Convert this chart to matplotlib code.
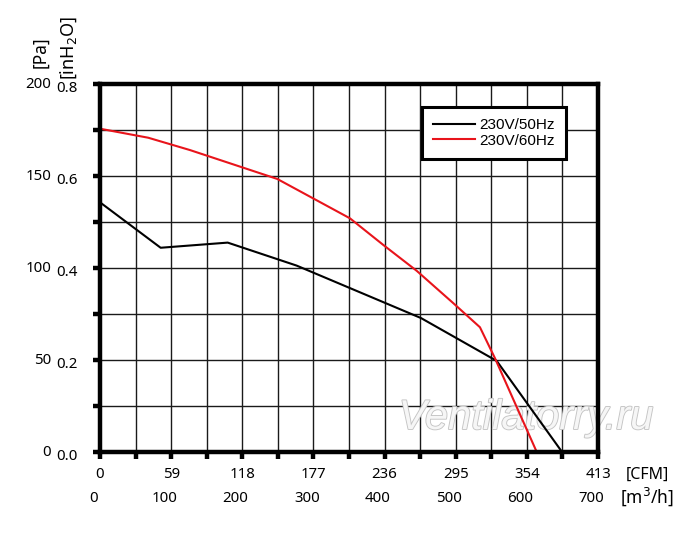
import matplotlib
matplotlib.use('Agg')
import matplotlib.pyplot as plt
import matplotlib.transforms as mtransforms
import matplotlib.patheffects as pe
from matplotlib.ticker import MultipleLocator

# curves (x in CFM, y in Pa)
cfm_50hz = [0, 50.3, 105.9, 163.1, 266.2, 329.0, 383.2]
pa_50hz = [135.7, 111.0, 113.8, 101.3, 72.8, 49.5, 0]
cfm_60hz = [0, 40, 74.6, 147.0, 207.3, 235.0, 262.6, 292.8, 315.1, 327.6, 362.2]
pa_60hz = [175.7, 170.8, 164.1, 148.4, 127.0, 112.5, 98.5, 81.0, 67.8, 50.9, 0]

cfm_ticks = [0, 59, 118, 177, 236, 295, 354, 413]
m3h_labels = ['0', '100', '200', '300', '400', '500', '600', '700']
pa_ticks = [0, 50, 100, 150, 200]
inh2o_labels = ['0.0', '0.2', '0.4', '0.6', '0.8']

fig = plt.figure(figsize=(7, 5.36), dpi=100)
ax = fig.add_axes([100 / 700, 84 / 536, 498 / 700, 368 / 536])

ax.plot(cfm_50hz, pa_50hz, color='black', lw=1.5, label='230V/50Hz', zorder=3)
ax.plot(cfm_60hz, pa_60hz, color='#e8141b', lw=1.5, label='230V/60Hz', zorder=3)

ax.set_xlim(0, 413)
ax.set_ylim(0, 200)
ax.xaxis.set_major_locator(MultipleLocator(29.5))
ax.yaxis.set_major_locator(MultipleLocator(25))
ax.grid(True, color='#1a1a1a', lw=1.0)
ax.set_axisbelow(True)
ax.set_xticklabels([])
ax.set_yticklabels([])
ax.tick_params(axis='both', length=5, width=3.2, color='black')
for s in ax.spines.values():
    s.set_linewidth(3.2)
    s.set_zorder(4)

txt = dict(fontsize=10.8, family='Noto Sans')

# y tick labels: Pa and inH2O columns
ytr = mtransforms.blended_transform_factory(fig.transFigure, ax.transData)
for v, lab in zip(pa_ticks, inh2o_labels):
    fig.text(51 / 700, v - 0.5, str(v), transform=ytr, ha='right', va='center', **txt)
    fig.text(78 / 700, v - 2.2, lab, transform=ytr, ha='right', va='center', **txt)

# x tick labels: CFM and m3/h rows
xtr = mtransforms.blended_transform_factory(ax.transData, fig.transFigure)
for v, lab in zip(cfm_ticks, m3h_labels):
    fig.text(v, 1 - 475 / 536, str(v), transform=xtr, ha='center', va='center', **txt)
    fig.text(v - 5.5, 1 - 499 / 536, lab, transform=xtr, ha='center', va='center', **txt)

fig.text(647 / 700, 1 - 475 / 536, '[CFM]', ha='center', va='center',
         fontsize=11.5, family='Noto Sans')
fig.text(647 / 700, 1 - 497 / 536, r'[m$^3$/h]', ha='center', va='center',
         fontsize=12.5, family='Noto Sans')
fig.text(40 / 700, 1 - 68 / 536, '[Pa]', rotation=90, ha='center', va='bottom',
         fontsize=12.5, family='Noto Sans')
fig.text(69 / 700, 1 - 80 / 536, r'[inH$_2$O]', rotation=90, ha='center', va='bottom',
         fontsize=13, family='Noto Sans')

leg = ax.legend(loc='upper right', bbox_to_anchor=(0.936, 0.9375), borderaxespad=0,
                fancybox=False, framealpha=1, edgecolor='black', handlelength=2.75,
                handletextpad=0.3, borderpad=0.72, labelspacing=0.12,
                prop={'family': 'Liberation Sans', 'size': 11})
leg.get_frame().set_linewidth(2.2)
leg.set_zorder(5)

ax.text(526 / 700, 1 - 418 / 536, 'Ventilatorry.ru', transform=fig.transFigure,
        ha='center', va='center', fontsize=30, style='italic',
        family='Liberation Sans', color='#f6f6f6', zorder=2, clip_on=False,
        path_effects=[pe.withStroke(linewidth=1.3, foreground='#c4c4c4')])

fig.savefig('out.png', dpi=100)
